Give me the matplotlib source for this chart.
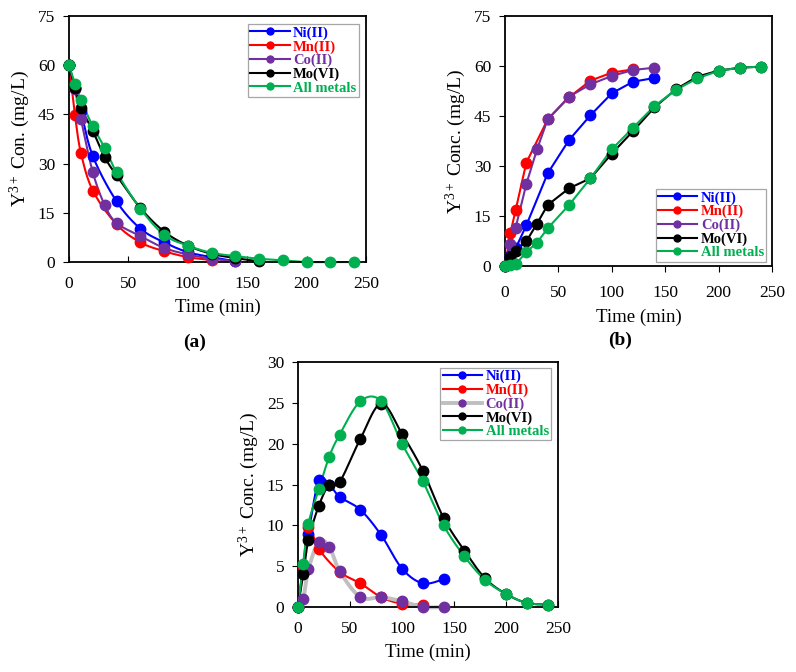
import numpy as np
import matplotlib
matplotlib.use("Agg")
import matplotlib.pyplot as plt

plt.rcParams['font.family'] = ['Liberation Serif', 'DejaVu Serif']
plt.rcParams['mathtext.fontset'] = 'custom'
plt.rcParams['mathtext.rm'] = 'Liberation Serif'
plt.rcParams['mathtext.it'] = 'Liberation Serif:italic'
plt.rcParams['mathtext.bf'] = 'Liberation Serif:bold'

series_names = ['Ni(II)', 'Mn(II)', 'Co(II)', 'Mo(VI)', 'All metals']
colors = ['#0000FF', '#FF0000', '#7030A0', '#000000', '#00B050']

# ---------- Panel (a) ----------
a_ni_t = [0, 5, 10, 20, 40, 60, 80, 100, 120, 140]
a_ni_y = [60, 53, 46, 32.3, 18.5, 10.2, 6.0, 3.0, 1.5, 0.2]
a_mn_t = [0, 5, 10, 20, 40, 60, 80, 100, 120]
a_mn_y = [60, 44.8, 33.3, 21.8, 11.5, 6.0, 3.3, 1.5, 0.6]
a_co_t = [0, 5, 10, 20, 30, 40, 60, 80, 100, 120, 140]
a_co_y = [60, 52.6, 43.6, 27.4, 17.4, 11.9, 7.9, 4.3, 2.3, 1.0, 0.2]
a_mo_t = [0, 5, 10, 20, 30, 40, 60, 80, 100, 120, 140, 160]
a_mo_y = [60, 53.0, 47.0, 40.0, 32.0, 26.4, 16.5, 9.3, 5.0, 2.5, 1.2, 0.2]
a_all_t = [0, 5, 10, 20, 30, 40, 60, 80, 100, 120, 140, 160, 180, 200, 220, 240]
a_all_y = [60, 54.3, 49.3, 41.4, 34.8, 27.4, 16.3, 8.3, 5.0, 2.8, 1.8, 1.0, 0.5, 0, 0, 0]

# ---------- Panel (b) ----------
b_ni_t = [0, 5, 10, 20, 40, 60, 80, 100, 120, 140]
b_ni_y = [0, 3.0, 5.3, 12.2, 27.8, 37.8, 45.2, 51.8, 55.3, 56.4]
b_mn_t = [0, 5, 10, 20, 40, 60, 80, 100, 120]
b_mn_y = [0, 9.8, 16.8, 31.0, 44.0, 50.6, 55.6, 58.0, 59.0]
b_co_t = [0, 5, 10, 20, 30, 40, 60, 80, 100, 120, 140]
b_co_y = [0, 6.5, 11.5, 24.6, 35.0, 44.0, 50.8, 54.5, 57.0, 58.8, 59.5]
b_mo_t = [0, 5, 10, 20, 30, 40, 60, 80, 100, 120, 140, 160, 180, 200, 220, 240]
b_mo_y = [0, 2.6, 4.6, 7.4, 12.7, 18.3, 23.3, 26.3, 33.7, 40.5, 47.6, 53.0, 56.8, 58.6, 59.5, 59.8]
b_all_t = [0, 5, 10, 20, 30, 40, 60, 80, 100, 120, 140, 160, 180, 200, 220, 240]
b_all_y = [0, 0.3, 0.5, 4.2, 7.0, 11.3, 18.3, 26.3, 35.0, 41.5, 48.0, 52.8, 56.3, 58.5, 59.5, 59.8]

# ---------- Panel (c) ----------
c_ni_t = [0, 5, 10, 20, 30, 40, 60, 80, 100, 120, 140]
c_ni_y = [0, 5.0, 9.0, 15.5, 15.0, 13.5, 11.9, 8.8, 4.7, 2.9, 3.4]
c_mn_t = [0, 5, 10, 20, 40, 60, 80, 100, 120]
c_mn_y = [0, 5.0, 9.8, 7.1, 4.3, 2.9, 1.2, 0.4, 0.3]
c_co_t = [0, 5, 10, 20, 30, 40, 60, 80, 100, 120, 140]
c_co_y = [0, 1.0, 4.6, 8.0, 7.4, 4.4, 1.2, 1.2, 0.7, 0, 0]
c_mo_t = [0, 5, 10, 20, 30, 40, 60, 80, 100, 120, 140, 160, 180, 200, 220, 240]
c_mo_y = [0, 4.0, 8.2, 12.4, 15.0, 15.3, 20.6, 24.9, 21.2, 16.7, 10.9, 6.9, 3.5, 1.6, 0.5, 0.3]
c_all_t = [0, 5, 10, 20, 30, 40, 60, 80, 100, 120, 140, 160, 180, 200, 220, 240]
c_all_y = [0, 5.3, 10.2, 14.4, 18.4, 21.1, 25.2, 25.2, 20.0, 15.4, 10.0, 6.2, 3.3, 1.6, 0.5, 0.3]


def smooth(x, y, n=20):
    """Catmull-Rom curve through the points (like Excel smoothed lines)."""
    P = np.column_stack([x, y]).astype(float)
    if len(P) < 3:
        return P[:, 0], P[:, 1]
    ext = np.vstack([P[0], P, P[-1]])
    out = []
    for i in range(1, len(ext) - 2):
        p0, p1, p2, p3 = ext[i - 1], ext[i], ext[i + 1], ext[i + 2]
        m1 = (p2 - p0) / 2.0
        m2 = (p3 - p1) / 2.0
        t = np.linspace(0, 1, n, endpoint=False)[:, None]
        h00 = 2 * t**3 - 3 * t**2 + 1
        h10 = t**3 - 2 * t**2 + t
        h01 = -2 * t**3 + 3 * t**2
        h11 = t**3 - t**2
        out.append(h00 * p1 + h10 * m1 + h01 * p2 + h11 * m2)
    out.append(P[-1][None, :])
    out = np.vstack(out)
    return out[:, 0], out[:, 1]


fig = plt.figure(figsize=(7.96, 6.72), dpi=100)

ax_a = fig.add_axes([0.0867, 0.6101, 0.3731, 0.3661])
ax_b = fig.add_axes([0.6344, 0.6042, 0.3354, 0.3720])
ax_c = fig.add_axes([0.3744, 0.0967, 0.3266, 0.3646])


def draw(ax, data, smooth_lines, line_colors=None, lws=None):
    for i, (t, y) in enumerate(data):
        c = colors[i]
        lc = line_colors[i] if line_colors else c
        lw = lws[i] if lws else 1.5
        if smooth_lines:
            sx, sy = smooth(t, y)
        else:
            sx, sy = t, y
        ax.plot(sx, sy, color=lc, lw=lw, clip_on=False, zorder=2 + i * 0.1)
        ax.plot(t, y, linestyle='none', marker='o', ms=7.5, color=c,
                clip_on=False, zorder=3 + i * 0.1)
    handles = []
    for i in range(len(data)):
        lc = line_colors[i] if line_colors else colors[i]
        lw = lws[i] if lws else 1.5
        h, = ax.plot([], [], color=lc, lw=lw, marker='o', ms=5,
                     mfc=colors[i], mec=colors[i])
        handles.append(h)
    return handles


def style(ax, ymax, ystep, ylabel, xdir):
    ax.set_xlim(0, 250)
    ax.set_ylim(0, ymax)
    ax.set_xticks(np.arange(0, 251, 50))
    ax.set_yticks(np.arange(0, ymax + 0.1, ystep))
    ax.tick_params(axis='x', direction=xdir, length=4, width=0.8, labelsize=12.5, pad=10)
    ax.tick_params(axis='y', direction='out', length=4, width=0.8, labelsize=12.5, pad=6)
    for s in ax.spines.values():
        s.set_linewidth(1.3)
    ax.set_xlabel('Time (min)', fontsize=13.5, labelpad=5)
    ax.set_ylabel(ylabel, fontsize=14, labelpad=4)


def legend(ax, handles, loc, anchor):
    leg = ax.legend(handles, series_names, loc=loc, bbox_to_anchor=anchor,
                    fancybox=False, edgecolor='#A6A6A6', framealpha=1,
                    prop={'weight': 'bold', 'size': 10.5},
                    handlelength=2.7, handletextpad=0.25, labelspacing=0.02,
                    borderpad=0.15, borderaxespad=0.3)
    leg.get_frame().set_linewidth(0.9)
    for txt, c in zip(leg.get_texts(), colors):
        txt.set_color(c)
    return leg


# (a)
h = draw(ax_a, [(a_ni_t, a_ni_y), (a_mn_t, a_mn_y), (a_co_t, a_co_y),
                (a_mo_t, a_mo_y), (a_all_t, a_all_y)], True)
style(ax_a, 75, 15, r'Y$^{\mathrm{3+}}$ Con. (mg/L)', 'in')
legend(ax_a, h, 'upper right', (0.99, 0.985))

# (b)
h = draw(ax_b, [(b_ni_t, b_ni_y), (b_mn_t, b_mn_y), (b_co_t, b_co_y),
                (b_mo_t, b_mo_y), (b_all_t, b_all_y)], False)
style(ax_b, 75, 15, r'Y$^{\mathrm{3+}}$ Conc. (mg/L)', 'out')
legend(ax_b, h, 'lower right', (0.995, 0.0))

# (c)
h = draw(ax_c, [(c_ni_t, c_ni_y), (c_mn_t, c_mn_y), (c_co_t, c_co_y),
                (c_mo_t, c_mo_y), (c_all_t, c_all_y)], True,
         line_colors=[colors[0], colors[1], '#BFBFBF', colors[3], colors[4]],
         lws=[1.5, 1.5, 2.8, 1.5, 1.5])
style(ax_c, 30, 5, r'Y$^{\mathrm{3+}}$ Conc. (mg/L)', 'in')
legend(ax_c, h, 'upper right', (0.99, 0.995))

fig.text(195 / 796, 1 - 342 / 672, '(a)', ha='center', va='center',
         fontsize=14, fontweight='bold')
fig.text(620 / 796, 1 - 340 / 672, '(b)', ha='center', va='center',
         fontsize=14, fontweight='bold')

fig.savefig('out.png', dpi=100)
